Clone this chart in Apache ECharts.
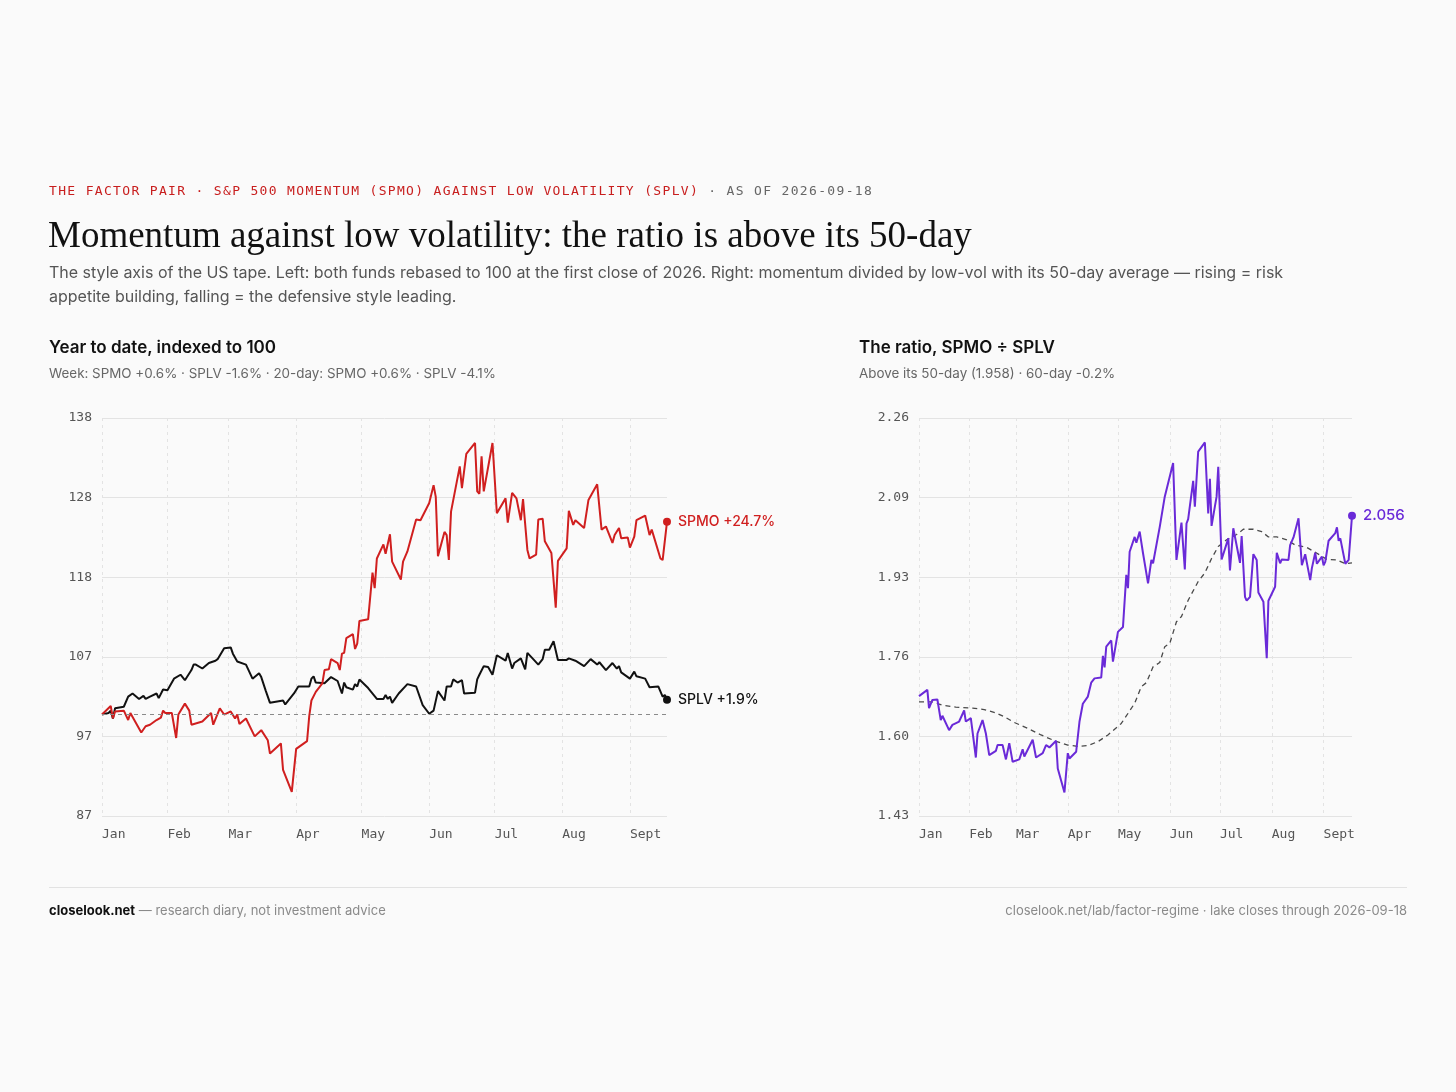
<!DOCTYPE html>
<html>
<head>
<meta charset="utf-8">
<script src="https://cdn.jsdelivr.net/npm/echarts@6/dist/echarts.min.js"></script>
<style>
  html, body { margin:0; padding:0; background:#fafafa; }
  body { width:1456px; height:1092px; position:relative; overflow:hidden; font-family: Inter, "Noto Sans", sans-serif; }
  #chart { position:absolute; left:0; top:0; width:1456px; height:1092px; }
  .t { position:absolute; white-space:nowrap; }
  #kicker { left:49px; top:183px; line-height:16px; font-family:"DejaVu Sans Mono", monospace; font-size:13px; letter-spacing:1.33px; color:#c81e1e; }
  #kicker span { color:#666; }
  #title { left:48px; top:213px; line-height:44px; font-family:"Liberation Serif", serif; font-size:37px; color:#111; }
  #sub { left:49px; top:260px; line-height:24px; font-size:16px; color:#555; }
  .ph { top:336px; line-height:22px; font-size:17px; font-weight:600; color:#111; }
  .ps { top:363px; line-height:20px; font-size:13.4px; color:#666; }
  #rule { position:absolute; left:49px; top:887px; width:1358px; height:1px; background:#e2e2e2; }
  .foot { top:901px; line-height:18px; font-size:13px; color:#8a8a8a; }
  .foot b { color:#111; font-weight:700; }
</style>
</head>
<body>
<div id="chart"></div>
<div class="t" id="kicker">THE FACTOR PAIR · S&amp;P 500 MOMENTUM (SPMO) AGAINST LOW VOLATILITY (SPLV)<span> · AS OF 2026-09-18</span></div>
<div class="t" id="title">Momentum against low volatility: the ratio is above its 50-day</div>
<div class="t" id="sub">The style axis of the US tape. Left: both funds rebased to 100 at the first close of 2026. Right: momentum divided by low-vol with its 50-day average — rising = risk<br>appetite building, falling = the defensive style leading.</div>
<div class="t ph" style="left:49px;">Year to date, indexed to 100</div>
<div class="t ps" style="left:49px;">Week: SPMO +0.6% · SPLV -1.6% · 20-day: SPMO +0.6% · SPLV -4.1%</div>
<div class="t ph" style="left:859px;">The ratio, SPMO ÷ SPLV</div>
<div class="t ps" style="left:859px;">Above its 50-day (1.958) · 60-day -0.2%</div>
<div id="rule"></div>
<div class="t foot" style="left:49px;"><b>closelook.net</b> — research diary, not investment advice</div>
<div class="t foot" style="right:49px;">closelook.net/lab/factor-regime · lake closes through 2026-09-18</div>
<script>
// x values are day-of-year 2026 (Jan 1 = 1)
const monthTicks = [2, 32, 60, 91, 121, 152, 182, 213, 244];
const monthLabels = ['Jan','Feb','Mar','Apr','May','Jun','Jul','Aug','Sept'];

const spmoDays = [2,6,7,8,12,14,15,20,22,24,27,29,30,31,34,36,37,40,42,43,48,52,53,56,58,61,63,64,65,68,72,75,78,79,84,85,89,91,96,97,98,100,103,104,106,107,110,111,112,113,114,117,118,119,120,124,126,127,128,131,132,134,135,139,140,142,146,148,152,154,155,156,159,160,161,162,166,167,169,173,174,175,176,177,181,183,187,188,190,192,194,195,197,198,201,202,204,205,208,210,211,215,216,218,219,223,225,229,231,233,236,237,239,240,243,244,246,247,251,253,254,258,259,261];
const spmoValues = [100,101.1,99.5,100.4,100.5,99.3,100.2,97.7,98.5,98.7,99.3,99.6,100.5,100.2,100.2,97.0,100.0,101.4,100.5,98.7,99.1,100.2,98.7,100.8,100.0,100.4,99.5,100.0,98.8,99.5,97.2,98.0,96.7,95.0,96.3,92.9,90.1,95.6,96.6,99.8,101.8,102.9,104.0,105.7,105.8,107.1,106.6,105.7,107.8,107.9,109.8,110.3,108.4,109.1,112.0,112.2,118.2,116.2,120.0,121.8,120.6,123.1,119.6,117.3,119.6,120.9,125.0,124.9,127.1,129.4,127.9,120.3,123.4,123.0,119.8,126.0,131.8,129.0,133.4,134.8,128.6,128.3,133.1,128.6,134.8,125.8,127.7,124.6,128.4,127.7,124.9,127.6,121.1,120.0,120.5,125.0,125.1,122.2,120.7,113.7,119.7,121.3,126.1,124.3,124.9,123.9,127.5,129.5,123.7,124.1,122.0,123.0,123.9,122.6,122.7,121.4,122.8,124.9,125.5,123.0,123.7,120.0,119.8,124.7];

const splvDays = [2,5,6,7,8,12,14,16,19,21,22,24,27,28,30,32,35,38,40,43,44,45,48,51,54,55,58,61,62,64,68,71,74,75,77,79,85,86,90,92,97,98,99,100,104,107,110,112,113,114,117,118,119,120,124,128,131,132,133,134,135,138,142,146,149,152,154,156,159,160,162,163,165,167,168,173,174,175,177,179,181,183,187,188,190,191,194,196,197,200,202,204,205,207,209,211,215,216,219,223,226,229,230,233,236,238,239,240,244,246,247,251,253,257,259,260,261];
const splvValues = [100,100.2,100.5,99.5,100.8,101.0,102.3,102.7,102.0,102.4,102.0,102.3,102.7,102.1,103.2,103.1,104.6,105.1,104.4,105.7,106.4,106.4,105.9,106.6,106.9,107.1,108.5,108.6,107.8,106.8,106.4,104.6,105.3,104.8,103.1,101.5,101.8,101.3,102.7,103.6,103.6,104.6,104.9,104.1,104.0,104.8,104.3,102.7,104.1,103.5,103.2,103.9,103.6,104.5,103.4,102.0,102.0,102.5,102.0,102.3,101.5,102.7,103.9,103.6,101.2,100.1,100.5,103.0,101.8,103.6,103.6,104.5,104.1,104.4,102.7,102.8,104.5,105.1,106.2,106.1,105.1,107.6,106.9,107.9,105.9,106.6,107.2,105.8,107.9,107.0,106.4,107.1,108.3,108.3,109.4,107.0,107.0,107.2,106.9,106.2,107.1,106.4,106.7,105.7,106.6,105.9,106.2,105.4,104.6,105.5,104.9,104.6,103.5,103.6,102.3,102.5,101.9];

const ratioDays = [2,7,8,10,13,15,16,20,22,26,29,30,33,36,37,40,42,44,48,49,52,54,56,58,62,64,65,70,72,76,78,80,84,85,89,91,92,96,98,100,103,105,106,107,111,112,113,114,117,118,121,124,126,127,128,131,132,134,136,139,141,142,146,149,154,156,159,161,162,163,166,167,169,173,175,176,177,180,181,183,187,188,190,191,194,195,197,198,200,202,204,205,208,210,211,215,216,218,219,223,224,226,229,231,233,236,237,238,239,240,243,244,245,246,247,251,252,253,254,257,259,261];
const ratioValues = [1.680,1.693,1.655,1.672,1.673,1.630,1.639,1.609,1.620,1.627,1.650,1.627,1.634,1.552,1.602,1.630,1.602,1.557,1.566,1.578,1.578,1.548,1.582,1.543,1.548,1.569,1.554,1.589,1.552,1.561,1.578,1.573,1.587,1.529,1.479,1.561,1.550,1.564,1.627,1.664,1.679,1.708,1.705,1.717,1.719,1.764,1.740,1.783,1.796,1.752,1.814,1.824,1.933,1.905,1.981,2.012,2.000,2.023,1.978,1.915,1.964,1.957,2.033,2.096,2.166,1.964,2.042,1.944,2.040,2.049,2.129,2.075,2.190,2.209,2.061,2.133,2.035,2.096,2.158,1.965,2.009,1.942,2.030,2.028,1.958,2.014,1.887,1.879,1.887,1.976,1.964,1.896,1.877,1.759,1.879,1.908,1.979,1.957,1.965,1.964,1.995,2.011,2.051,1.953,1.976,1.922,1.947,1.943,1.979,1.956,1.971,1.953,1.960,1.958,2.004,2.020,2.032,2.004,2.009,1.956,1.964,2.056];

const maDays = [2,10,16,24,34,41,48,53,59,67,75,83,91,97,103,109,115,123,131,135,138,142,146,149,152,156,159,163,169,173,177,181,186,192,196,202,207,211,216,222,227,234,240,246,252,257,261];
const maValues = [1.668,1.668,1.661,1.657,1.655,1.652,1.645,1.637,1.625,1.613,1.599,1.587,1.578,1.575,1.577,1.585,1.599,1.623,1.665,1.700,1.708,1.741,1.750,1.783,1.790,1.835,1.846,1.880,1.919,1.937,1.967,1.992,2.006,2.017,2.028,2.028,2.023,2.012,2.012,2.006,1.995,1.990,1.978,1.965,1.964,1.956,1.958];

const leftTicks = { min: 87, max: 138, step: 10.2 };
const rightTicks = { min: 1.43, max: 2.26, step: 0.166 };

const RED = '#d01f1f', BLACK = '#111111', PURPLE = '#6a2ad8';
const zip = (a, b) => a.map((d, i) => [d, b[i]]);
const last = a => a[a.length - 1];
const pct = v => (v >= 0 ? '+' : '') + v.toFixed(1) + '%';

const monoLabel = { color: '#555', fontFamily: 'DejaVu Sans Mono, monospace', fontSize: 13 };

function xAx(gi) {
  return {
    type: 'value', gridIndex: gi, min: 2, max: 261,
    axisLine: { show: false },
    axisTick: { show: false, customValues: monthTicks },
    axisLabel: Object.assign({}, monoLabel, {
      customValues: monthTicks, align: 'left', margin: 12,
      formatter: v => monthLabels[monthTicks.indexOf(v)] || ''
    }),
    splitLine: { show: true, lineStyle: { color: '#e3e3e3', type: [3, 4], width: 1 } }
  };
}
function yAx(gi, t, fmt) {
  return {
    type: 'value', gridIndex: gi, min: t.min, max: t.max, interval: t.step,
    axisLine: { show: false }, axisTick: { show: false },
    axisLabel: Object.assign({}, monoLabel, { margin: 10, formatter: fmt, padding: [3, 0, 0, 0] }),
    splitLine: { show: true, lineStyle: { color: '#e3e3e3', width: 1 } }
  };
}

const spmoPct = (last(spmoValues) / spmoValues[0] - 1) * 100;
const splvPct = (last(splvValues) / splvValues[0] - 1) * 100;

const chart = echarts.init(document.getElementById('chart'), null, { renderer: 'canvas' });
chart.setOption({
  animation: false,
  backgroundColor: 'transparent',
  grid: [
    { left: 102, top: 418, width: 565, height: 398, containLabel: false },
    { left: 919, top: 418, width: 433, height: 398, containLabel: false }
  ],
  xAxis: [xAx(0), xAx(1)],
  yAxis: [
    yAx(0, leftTicks, v => String(Math.round(v))),
    yAx(1, rightTicks, v => v.toFixed(2))
  ],
  series: [
    {
      name: 'SPLV', type: 'line', xAxisIndex: 0, yAxisIndex: 0,
      data: zip(splvDays, splvValues), showSymbol: false, symbol: 'none',
      lineStyle: { color: BLACK, width: 2 }, z: 3,
      markLine: {
        silent: true, symbol: 'none', label: { show: false },
        lineStyle: { color: '#8a8a8a', type: [4, 4], width: 1 },
        data: [{ yAxis: 100 }]
      }
    },
    {
      name: 'SPMO', type: 'line', xAxisIndex: 0, yAxisIndex: 0,
      data: zip(spmoDays, spmoValues), showSymbol: false, symbol: 'none',
      lineStyle: { color: RED, width: 2 }, z: 4
    },
    {
      type: 'scatter', xAxisIndex: 0, yAxisIndex: 0, symbolSize: 8, z: 6,
      data: [
        { value: [last(spmoDays), last(spmoValues)], itemStyle: { color: RED, opacity: 1 },
          label: { formatter: 'SPMO ' + pct(spmoPct), color: RED } },
        { value: [last(splvDays), last(splvValues)], itemStyle: { color: BLACK, opacity: 1 },
          label: { formatter: 'SPLV ' + pct(splvPct), color: BLACK } }
      ],
      label: { show: true, position: 'right', distance: 7, fontFamily: 'Inter, sans-serif', fontSize: 14, fontWeight: 500 }
    },
    {
      name: '50-day', type: 'line', xAxisIndex: 1, yAxisIndex: 1,
      data: zip(maDays, maValues), showSymbol: false, symbol: 'none',
      lineStyle: { color: '#4a4a4a', width: 1.3, type: [5, 4] }, z: 3
    },
    {
      name: 'Ratio', type: 'line', xAxisIndex: 1, yAxisIndex: 1,
      data: zip(ratioDays, ratioValues), showSymbol: false, symbol: 'none',
      lineStyle: { color: PURPLE, width: 2 }, z: 4
    },
    {
      type: 'scatter', xAxisIndex: 1, yAxisIndex: 1, symbolSize: 8, z: 6,
      data: [{ value: [last(ratioDays), last(ratioValues)] }],
      itemStyle: { color: PURPLE, opacity: 1 },
      label: { show: true, position: 'right', distance: 7, formatter: last(ratioValues).toFixed(3),
               color: PURPLE, fontFamily: 'Inter, sans-serif', fontSize: 15, fontWeight: 500 }
    }
  ]
});
</script>
</body>
</html>
